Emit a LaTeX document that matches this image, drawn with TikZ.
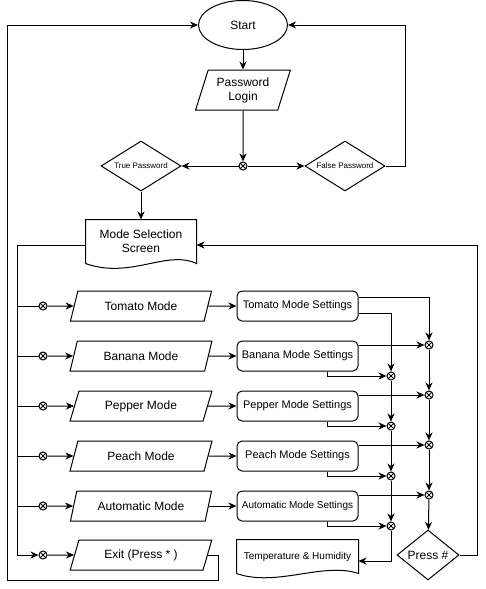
\documentclass[tikz,border=0pt]{standalone}
\usepackage{fontspec}
\setmainfont{Liberation Sans}
\usetikzlibrary{shapes.geometric,arrows.meta}
\begin{document}
\begin{tikzpicture}
	[x=1pt,y=-1pt,line width=1pt,
	myarrow/.style={-{Stealth[length=8pt,width=7pt,inset=2.5pt]}},
	mymode/.style={trapezium,draw,trapezium left angle=68,trapezium right angle=112,trapezium stretches=true,minimum width=142pt,minimum height=30pt,inner sep=1pt,font=\fontsize{12}{14}\selectfont},
	myset/.style={rectangle,draw,rounded corners=5pt,minimum width=121pt,minimum height=30pt,inner sep=1pt},
	mydiam/.style={diamond,draw,inner sep=0pt},
	mydoc/.style={rectangle,inner sep=1pt,align=center},
	myxor/.style={circle,draw,minimum size=8pt,inner sep=0pt,path picture={\draw[line width=0.8pt] (path picture bounding box.north west) -- (path picture bounding box.south east) (path picture bounding box.north east) -- (path picture bounding box.south west);}}]
	\useasboundingbox (0,0) rectangle (486,589);
	% top part
	\node[ellipse,draw,minimum width=89pt,minimum height=49pt,font=\fontsize{12}{14}\selectfont] (start) at (243,25) {Start};
	\node[mymode,minimum width=95pt,minimum height=40pt,align=center,trapezium left angle=70,trapezium right angle=110] (login) at (243,90) {Password\\Login};
	\node[myxor] (xor0) at (243,166) {};
	\node[mydiam,aspect=1.6,minimum width=80pt,minimum height=50pt,font=\fontsize{8}{9}\selectfont] (true) at (141,166) {True Password};
	\node[mydiam,aspect=1.6,minimum width=80pt,minimum height=50pt,font=\fontsize{8}{9}\selectfont] (false) at (345,166) {False Password};
	\node[mydoc,minimum width=110pt,minimum height=43pt,font=\fontsize{12}{14}\selectfont] (msel) at (141,241.5) {Mode Selection\\Screen};
	\draw (msel.south west) -- (msel.north west) -- (msel.north east) -- (msel.south east)
		.. controls +(-30,-14) and +(45,16) .. (msel.south west);
	% modes
	\foreach \i/\y/\m/\f in {1/306/Tomato/11,2/356/Banana/11,3/406/Pepper/11,4/456/Peach/11,5/506/Automatic/10}
	{
		\node[myxor] (xl\i) at (43,\y) {};
		\node[mymode] (mode\i) at (141,\y) {\m\ Mode};
		\node[myset,font=\fontsize{\f}{12}\selectfont] (set\i) at (297.5,\y) {\m\ Mode Settings};
	}
	\node[myxor] (xl6) at (43,555) {};
	\node[mymode] (exit) at (141,555) {Exit (Press * )};
	\foreach \j/\y in {1/345,2/395,3/445,4/495}
	{
		\node[myxor] (xr\j) at (429,\y) {};
	}
	\foreach \j/\y in {1/376,2/426,3/476,4/526}
	{
		\node[myxor] (xm\j) at (391,\y) {};
	}
	\node[mydiam,aspect=1.24,minimum width=62pt,minimum height=50pt,font=\fontsize{12}{14}\selectfont] (press) at (428,555) {Press \#};
	\node[mydoc,minimum width=121pt,minimum height=33pt,font=\fontsize{10}{12}\selectfont] (temp) at (297.5,556.5) {Temperature \& Humidity};
	\draw (temp.south west) -- (temp.north west) -- (temp.north east) -- (temp.south east)
		.. controls +(-35,-12) and +(40,14) .. (temp.south west);
	\coordinate (lft) at (17,555);
	\coordinate (rgt) at (477,245);
	\coordinate (bl) at (7,580);
	% connectors
	\draw[myarrow] (start) -- (login);
	\draw[myarrow] (login) -- (xor0);
	\draw[myarrow] (xor0) -- (true);
	\draw[myarrow] (xor0) -- (false);
	\draw[myarrow] (false.east) -- ++(20,0) |- (start.east);
	\draw[myarrow] (true) -- (msel.north);
	\draw[myarrow] ([yshift=-3.5pt]msel.west) -| (lft) -- (xl6);
	\draw[myarrow] (press.east) -| (rgt) -- ([yshift=-3.5pt]msel.east);
	\draw[myarrow] (exit.east) -- ++(11,0) |- (bl) |- (start.west);
	\draw[myarrow] (xl6) -- (exit);
	\foreach \i in {1,...,5}
	{
		\draw (lft |- xl\i) -- (xl\i);
		\draw[myarrow] (xl\i) -- (mode\i);
		\draw[myarrow] (mode\i) -- (set\i);
	}
	\draw[myarrow] ([yshift=9pt]set1.east) -| (xr1);
	\draw[myarrow] ([yshift=-7pt]set1.east) -| (xm1);
	\foreach \i [count=\j] in {2,...,5}
	{
		\draw[myarrow] (set\i.east |- xr\j) -- (xr\j);
		\draw[myarrow] ([xshift=30pt]set\i.south) |- (xm\j);
	}
	\foreach \j [count=\k from 2] in {1,2,3}
	{
		\draw[myarrow] (xr\j) -- (xr\k);
		\draw[myarrow] (xm\j) -- (xm\k);
	}
	\draw[myarrow] (xr4) -- (press);
	\draw[myarrow] (xm4) |- ([yshift=-4.5pt]temp.east);
\end{tikzpicture}
\end{document}
